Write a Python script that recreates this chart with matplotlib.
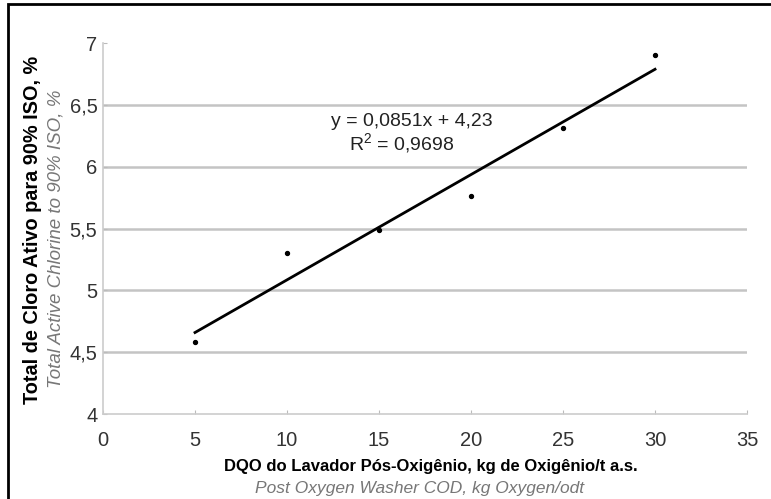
#!/usr/bin/env python3

import numpy as np
import matplotlib
matplotlib.use('Agg')
import matplotlib.pyplot as plt
from matplotlib.patches import Rectangle

# data
cod = [5, 10, 15, 20, 25, 30]
chlorine = [4.58, 5.30, 5.49, 5.76, 6.31, 6.90]
x_ticks = [0, 5, 10, 15, 20, 25, 30, 35]
y_ticks = [4, 4.5, 5, 5.5, 6, 6.5, 7]
y_tick_labels = ['4', '4,5', '5', '5,5', '6', '6,5', '7']
r_squared = '0,9698'

plt.rcParams['font.family'] = ['Liberation Sans', 'DejaVu Sans']

fig = plt.figure(figsize=(7.71, 4.99), dpi=100)
ax = fig.add_axes([0.1336, 0.1703, 0.8353, 0.7435])

# outer frame (cut off on the right and bottom)
fig.patches.append(Rectangle((8 / 771, -0.05), 1.2, 1 - 4 / 499 + 0.05,
                             transform=fig.transFigure, fill=False,
                             edgecolor='black', linewidth=2))

# trend line from a linear fit
slope, intercept = np.polyfit(cod, chlorine, 1)
xs = np.array([min(cod), max(cod)])
ax.plot(xs, slope * xs + intercept, color='black', linewidth=2, zorder=3)
ax.scatter(cod, chlorine, s=8, color='black', zorder=4)

eq = f'y = {slope:.4f}x + {intercept:.2f}'.replace('.', ',')
fig.text(412 / 771, 1 - 122 / 499, eq, fontsize=14,
         ha='center', va='center', color='#222222')
fig.text(402 / 771, 1 - 143 / 499, '$\\mathregular{R^2}$ = ' + r_squared,
         fontsize=14, ha='center', va='center', color='#222222')

ax.set_xlim(0, 35)
ax.set_ylim(4, 7)
ax.set_xticks(x_ticks)
ax.set_yticks(y_ticks)
ax.set_yticklabels(y_tick_labels)
ax.tick_params(labelsize=14.5, colors='#bbbbbb', labelcolor='#333333',
               direction='in', length=3)
ax.tick_params(axis='x', pad=12)
ax.tick_params(axis='y', pad=4)
for y in y_ticks[1:-1]:
    ax.axhline(y, color='#c4c4c4', linewidth=1.8, zorder=1)
for s in ['top', 'right']:
    ax.spines[s].set_visible(False)
for s in ['left', 'bottom']:
    ax.spines[s].set_color('#cccccc')
    ax.spines[s].set_linewidth(1.2)

# axis titles, Portuguese bold and English italic
fig.text(431 / 771, 1 - 466 / 499, 'DQO do Lavador Pós-Oxigênio, kg de Oxigênio/t a.s.',
         fontsize=12, fontweight='bold', ha='center', va='center')
fig.text(420 / 771, 1 - 488 / 499, 'Post Oxygen Washer COD, kg Oxygen/odt',
         fontsize=12.5, style='italic', color='#777777', ha='center', va='center')
fig.text(33 / 771, 1 - 230 / 499, 'Total de Cloro Ativo para 90% ISO, %',
         fontsize=14.3, fontweight='bold', rotation=90, ha='center', va='center')
fig.text(56 / 771, 1 - 239 / 499, 'Total Active Chlorine to 90% ISO, %',
         fontsize=13.5, style='italic', color='#777777', rotation=90,
         ha='center', va='center')

plt.savefig('out.png', dpi=100)
